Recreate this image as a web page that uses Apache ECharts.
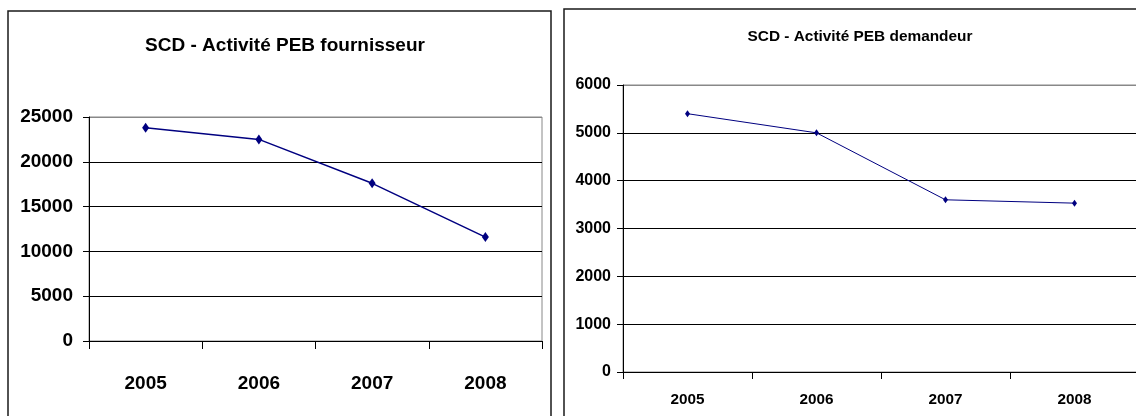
<!DOCTYPE html>
<html>
<head>
<meta charset="utf-8">
<script src="https://cdn.jsdelivr.net/npm/echarts@6/dist/echarts.min.js"></script>
<style>
  html, body { margin: 0; padding: 0; background: #fff; }
  #chart { width: 1136px; height: 416px; }
</style>
</head>
<body>
<div id="chart"></div>
<script>
var years = ['2005', '2006', '2007', '2008'];
var fournisseur = [23800, 22500, 17600, 11600];
var demandeur = [5400, 5000, 3600, 3530];
var titreFournisseur = 'SCD - Activité PEB fournisseur';
var titreDemandeur = 'SCD - Activité PEB demandeur';

var arial = "'Liberation Sans', Arial, sans-serif";

function xAxis(idx, size, margin, tickLen){
  return {
    type: 'category',
    gridIndex: idx,
    data: years,
    boundaryGap: true,
    axisLine: { show: true, lineStyle: { color: '#000', width: 1 } },
    axisTick: { show: true, length: tickLen, lineStyle: { color: '#000' } },
    axisLabel: { fontFamily: arial, fontWeight: 'bold', fontSize: size, color: '#000', margin: margin },
    splitLine: { show: false }
  };
}

function yAxis(idx, max, interval, size, margin){
  var n = max / interval;
  var cols = [];
  for (var i = 0; i < n; i++) cols.push('#000');
  cols.push('#888');
  return {
    type: 'value',
    gridIndex: idx,
    min: 0,
    max: max,
    interval: interval,
    axisLine: { show: true, lineStyle: { color: '#000', width: 1 } },
    axisTick: { show: true, length: 6, lineStyle: { color: '#000' } },
    axisLabel: {
      fontFamily: arial, fontWeight: 'bold', fontSize: size, color: '#000', margin: margin,
      formatter: function(v){ return String(v); }
    },
    splitLine: { show: true, lineStyle: { color: cols, width: 1 } }
  };
}

var chart = echarts.init(document.getElementById('chart'));
chart.setOption({
  animation: false,
  backgroundColor: '#fff',
  title: [
    {
      text: titreFournisseur, left: 280, top: 31, textAlign: 'center',
      textStyle: { fontFamily: arial, fontWeight: 'bold', fontSize: 19, color: '#000' }
    },
    {
      text: titreDemandeur, left: 855, top: 24, textAlign: 'center',
      textStyle: { fontFamily: arial, fontWeight: 'bold', fontSize: 15.4, color: '#000' }
    }
  ],
  grid: [
    { left: 89, top: 117, width: 453, height: 224, show: true, borderColor: '#888', borderWidth: 1,
      backgroundColor: '#fff', outerBoundsMode: 'none', containLabel: false },
    { left: 623, top: 85, width: 516, height: 287, show: true, borderColor: '#888', borderWidth: 1,
      backgroundColor: '#fff', outerBoundsMode: 'none', containLabel: false }
  ],
  xAxis: [
    xAxis(0, 19, 33, 8),
    xAxis(1, 15.3, 20, 7)
  ],
  yAxis: [
    yAxis(0, 25000, 5000, 19, 16),
    yAxis(1, 6000, 1000, 16, 12)
  ],
  series: [
    {
      type: 'line', xAxisIndex: 0, yAxisIndex: 0, data: fournisseur,
      symbol: 'diamond', symbolSize: [7, 10],
      lineStyle: { color: '#000080', width: 1.5 },
      itemStyle: { color: '#000080' }
    },
    {
      type: 'line', xAxisIndex: 1, yAxisIndex: 1, data: demandeur,
      symbol: 'diamond', symbolSize: [5, 7],
      lineStyle: { color: '#000080', width: 1 },
      itemStyle: { color: '#000080' }
    }
  ],
  graphic: [
    { type: 'rect', shape: { x: 8, y: 11, width: 543, height: 430 }, style: { fill: null, stroke: '#1a1a1a', lineWidth: 1.5 }, z: 100 },
    { type: 'rect', shape: { x: 564, y: 9, width: 600, height: 430 }, style: { fill: null, stroke: '#1a1a1a', lineWidth: 1.5 }, z: 100 }
  ]
});
</script>
</body>
</html>
